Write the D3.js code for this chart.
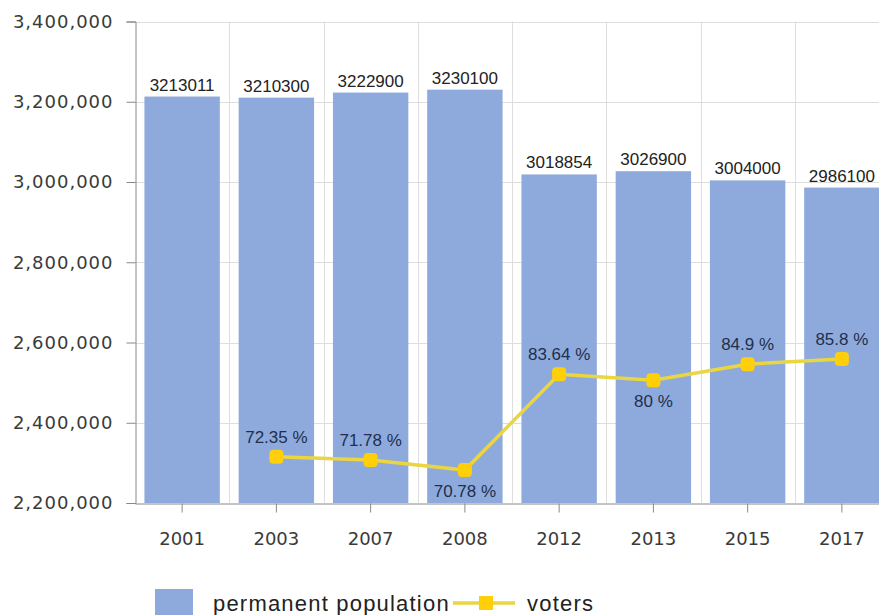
<!DOCTYPE html>
<html>
<head>
<meta charset="utf-8">
<script src="https://cdn.jsdelivr.net/npm/d3@7"></script>
<style>
  body { margin: 0; background: #fff; }
  svg { display: block; }
</style>
</head>
<body>
<div id="container"></div>
<script>
const years = ['2001', '2003', '2007', '2008', '2012', '2013', '2015', '2017'];
const population = [3213011, 3210300, 3222900, 3230100, 3018854, 3026900, 3004000, 2986100];
const voters = [null, 2315000, 2307000, 2282000, 2521000, 2506000, 2546000, 2559000];
const voterPct = [null, '72.35 %', '71.78 %', '70.78 %', '83.64 %', '80 %', '84.9 %', '85.8 %'];
const pctBelow = ['2008', '2013'];
const yTicks = [2200000, 2400000, 2600000, 2800000, 3000000, 3200000, 3400000];

const W = 879, H = 615;
const plot = { left: 135, right: 889, top: 21.5, bottom: 503 };

const svg = d3.select('#container')
    .append('svg')
    .attr('width', W)
    .attr('height', H);

const x = d3.scaleBand()
    .domain(years)
    .range([plot.left, plot.right])
    .paddingInner(0.2)
    .paddingOuter(0.1);

const y = d3.scaleLinear()
    .domain([yTicks[0], yTicks[yTicks.length - 1]])
    .range([plot.bottom, plot.top]);

// grid
const grid = svg.append('g').attr('stroke', '#dedede').attr('stroke-width', 1);
grid.selectAll('.hg')
    .data(yTicks.slice(1)).enter()
    .append('line')
    .attr('x1', plot.left).attr('x2', W)
    .attr('y1', d => Math.round(y(d)) + 0.5)
    .attr('y2', d => Math.round(y(d)) + 0.5);
grid.selectAll('.vg')
    .data(years).enter()
    .append('line')
    .attr('x1', d => Math.round(x(d) - x.step() * 0.1 + x.step()) + 0.5)
    .attr('x2', d => Math.round(x(d) - x.step() * 0.1 + x.step()) + 0.5)
    .attr('y1', plot.top).attr('y2', plot.bottom);

// bars
svg.append('g')
    .selectAll('rect')
    .data(years).enter()
    .append('rect')
    .attr('x', d => x(d))
    .attr('width', x.bandwidth())
    .attr('y', (d, i) => y(population[i]))
    .attr('height', (d, i) => plot.bottom - y(population[i]))
    .attr('fill', '#8eaadc');

svg.append('g')
    .selectAll('text')
    .data(years).enter()
    .append('text')
    .attr('x', d => x(d) + x.bandwidth() / 2)
    .attr('y', (d, i) => y(population[i]) - 6)
    .attr('text-anchor', 'middle')
    .attr('font-family', 'Liberation Sans, Arial, sans-serif')
    .attr('font-size', 17)
    .attr('fill', '#222')
    .text((d, i) => population[i]);

// y axis
const yAxis = svg.append('g')
    .attr('transform', `translate(${plot.left + 0.5},0)`)
    .call(d3.axisLeft(y).tickValues(yTicks).tickSize(9).tickPadding(13).tickFormat(d3.format(',')));
yAxis.select('.domain').attr('stroke', '#888');
yAxis.selectAll('.tick line').attr('stroke', '#888');
yAxis.selectAll('.tick text')
    .attr('font-family', 'DejaVu Sans, sans-serif')
    .attr('font-size', 18)
    .attr('letter-spacing', 1)
    .attr('fill', '#3a3a3a');

// x axis
const xAxis = svg.append('g')
    .attr('transform', `translate(0,${plot.bottom + 0.5})`)
    .call(d3.axisBottom(x).tickSize(9).tickPadding(20).tickSizeOuter(0));
xAxis.select('.domain').attr('stroke', '#888');
xAxis.selectAll('.tick line').attr('stroke', '#888');
xAxis.selectAll('.tick text')
    .attr('font-family', 'DejaVu Sans, sans-serif')
    .attr('font-size', 18)
    .attr('fill', '#3a3a3a');

// voters line
const pts = years.map((yr, i) => ({ yr, v: voters[i], pct: voterPct[i] })).filter(d => d.v != null);
const line = d3.line()
    .x(d => x(d.yr) + x.bandwidth() / 2)
    .y(d => y(d.v));

svg.append('path')
    .datum(pts)
    .attr('d', line)
    .attr('fill', 'none')
    .attr('stroke', '#e9d640')
    .attr('stroke-width', 3.5);

svg.append('g')
    .selectAll('rect')
    .data(pts).enter()
    .append('rect')
    .attr('x', d => x(d.yr) + x.bandwidth() / 2 - 7)
    .attr('y', d => y(d.v) - 7)
    .attr('width', 14).attr('height', 14)
    .attr('rx', 4)
    .attr('fill', '#ffcf0a');

svg.append('g')
    .selectAll('text')
    .data(pts).enter()
    .append('text')
    .attr('x', d => x(d.yr) + x.bandwidth() / 2)
    .attr('y', d => pctBelow.includes(d.yr) ? y(d.v) + 27 : y(d.v) - 14)
    .attr('text-anchor', 'middle')
    .attr('font-family', 'Liberation Sans, Arial, sans-serif')
    .attr('font-size', 17)
    .attr('fill', '#1f2f4d')
    .text(d => d.pct);

// legend
const legend = svg.append('g').attr('font-family', 'Liberation Sans, Arial, sans-serif').attr('font-size', 22).attr('fill', '#222');
legend.append('rect').attr('x', 155).attr('y', 589).attr('width', 38).attr('height', 30).attr('fill', '#8eaadc');
legend.append('text').attr('x', 213).attr('y', 611).attr('letter-spacing', 1.2).text('permanent population');
legend.append('line').attr('x1', 453).attr('x2', 515).attr('y1', 603).attr('y2', 603)
    .attr('stroke', '#e9d640').attr('stroke-width', 3.5);
legend.append('rect').attr('x', 479).attr('y', 596).attr('width', 14).attr('height', 14).attr('fill', '#ffcf0a');
legend.append('text').attr('x', 527).attr('y', 611).attr('letter-spacing', 1.2).text('voters');
</script>
</body>
</html>
